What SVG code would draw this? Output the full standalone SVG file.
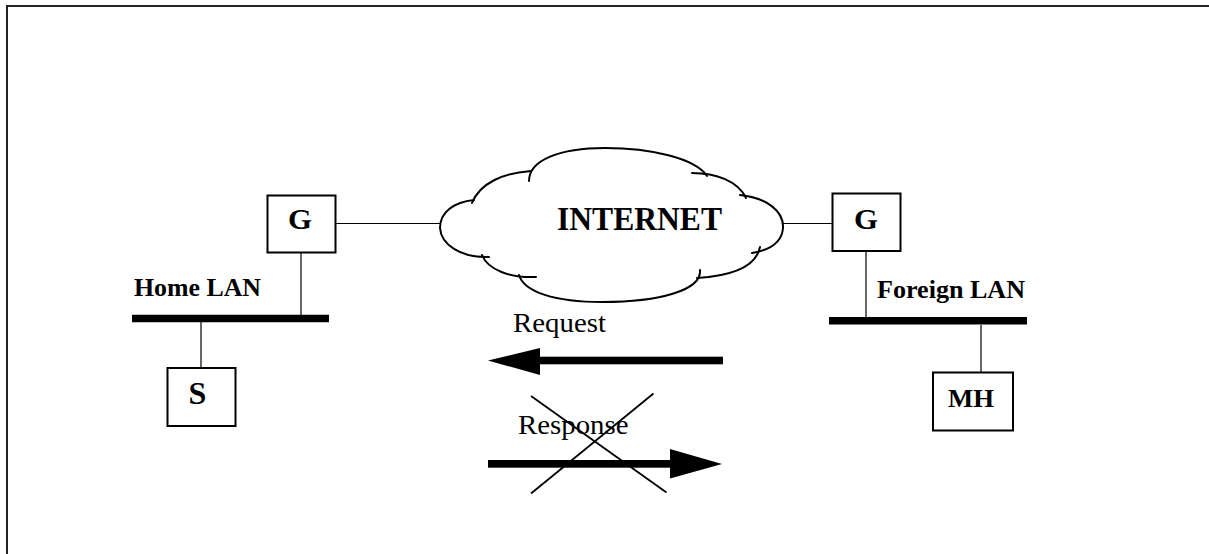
<svg xmlns="http://www.w3.org/2000/svg" width="1209" height="554" viewBox="0 0 1209 554">
  <style>
    .box { fill: #fff; stroke: #000; stroke-width: 2; }
    .wire { stroke: #000; stroke-width: 1.2; fill: none; }
    .bus { stroke: #000; stroke-width: 7.5; fill: none; }
    .cloud { stroke: #000; stroke-width: 2; fill: none; stroke-linecap: round; }
    .bold { font-family: "Liberation Serif", "Times New Roman", serif; font-weight: bold; fill: #000; }
    .plain { font-family: "Liberation Serif", "Times New Roman", serif; fill: #000; }
  </style>
  <rect width="1209" height="554" fill="#fff"/>
  <!-- page frame (left and top edges only) -->
  <path d="M7,554 V6 H1209" fill="none" stroke="#222" stroke-width="2"/>

  <!-- connectors: gateway links, LAN drops and buses -->
  <g id="connectors">
    <line class="wire" x1="335" y1="223.5" x2="441" y2="223.5"/>
    <line class="wire" x1="782" y1="223.5" x2="832" y2="223.5"/>
    <line class="wire" x1="301" y1="253" x2="301" y2="315"/>
    <line class="wire" x1="201" y1="322" x2="201" y2="368"/>
    <line class="wire" x1="866" y1="251" x2="866" y2="317"/>
    <line class="wire" x1="981" y1="325" x2="981" y2="372"/>
  </g>

  <g id="home-lan">
    <line class="bus" x1="132" y1="318.6" x2="329" y2="318.6"/>
    <text class="bold" x="134" y="296" font-size="24.5" textLength="127" lengthAdjust="spacingAndGlyphs">Home LAN</text>
  </g>

  <g id="foreign-lan">
    <line class="bus" x1="829" y1="320.8" x2="1027" y2="320.8"/>
    <text class="bold" x="877" y="298" font-size="24.5" textLength="148" lengthAdjust="spacingAndGlyphs">Foreign LAN</text>
  </g>

  <g id="gateway-home">
    <rect class="box" x="267.5" y="195.5" width="68" height="57"/>
    <text class="bold" x="300" y="229" font-size="29" text-anchor="middle" textLength="24" lengthAdjust="spacingAndGlyphs">G</text>
  </g>

  <g id="gateway-foreign">
    <rect class="box" x="832.5" y="193.5" width="68" height="57.5"/>
    <text class="bold" x="866" y="229" font-size="29" text-anchor="middle" textLength="24" lengthAdjust="spacingAndGlyphs">G</text>
  </g>

  <g id="server">
    <rect class="box" x="167.5" y="368" width="68" height="58"/>
    <text class="bold" x="197.5" y="404" font-size="32" text-anchor="middle">S</text>
  </g>

  <g id="mobile-host">
    <rect class="box" x="933" y="372.5" width="80" height="58"/>
    <text class="bold" x="948" y="406.5" font-size="24.5" textLength="46" lengthAdjust="spacingAndGlyphs">MH</text>
  </g>

  <g id="internet">
    <path class="cloud" d="M472,203 C480,183 503,173 531,171"/>
    <path class="cloud" d="M529,181 C529,160 560,148 605,148 C650,148 695,158 707,176"/>
    <path class="cloud" d="M692,173 C716,173 738,181 746,198"/>
    <path class="cloud" d="M740,195 C768,198 784,212 783,228 C782,242 770,250 752,253"/>
    <path class="cloud" d="M760,247 C756,267 730,276 697,278"/>
    <path class="cloud" d="M700,270 C702,290 660,302 602,302 C555,302 524,292 519,275"/>
    <path class="cloud" d="M536,277 C510,278 488,270 482,255"/>
    <path class="cloud" d="M489,257 C460,258 441,244 440,228 C440,212 454,202 474,200"/>
    <text class="bold" x="557" y="229.5" font-size="33" textLength="165" lengthAdjust="spacingAndGlyphs">INTERNET</text>
  </g>

  <g id="request">
    <text class="plain" x="513" y="331.5" font-size="26.5" textLength="93" lengthAdjust="spacingAndGlyphs">Request</text>
    <rect x="538" y="356.7" width="185" height="7.6" fill="#000"/>
    <polygon points="488,360.5 540,348 540,375" fill="#000"/>
  </g>

  <g id="response">
    <text class="plain" x="518" y="434" font-size="26.5" textLength="110.5" lengthAdjust="spacingAndGlyphs">Response</text>
    <rect x="488" y="460" width="184" height="7.7" fill="#000"/>
    <polygon points="670,449 722,464 670,478.5" fill="#000"/>
    <line x1="531" y1="396" x2="666.5" y2="492.5" stroke="#000" stroke-width="1.8"/>
    <line x1="653.5" y1="393.5" x2="531" y2="493.5" stroke="#000" stroke-width="1.8"/>
  </g>
</svg>
